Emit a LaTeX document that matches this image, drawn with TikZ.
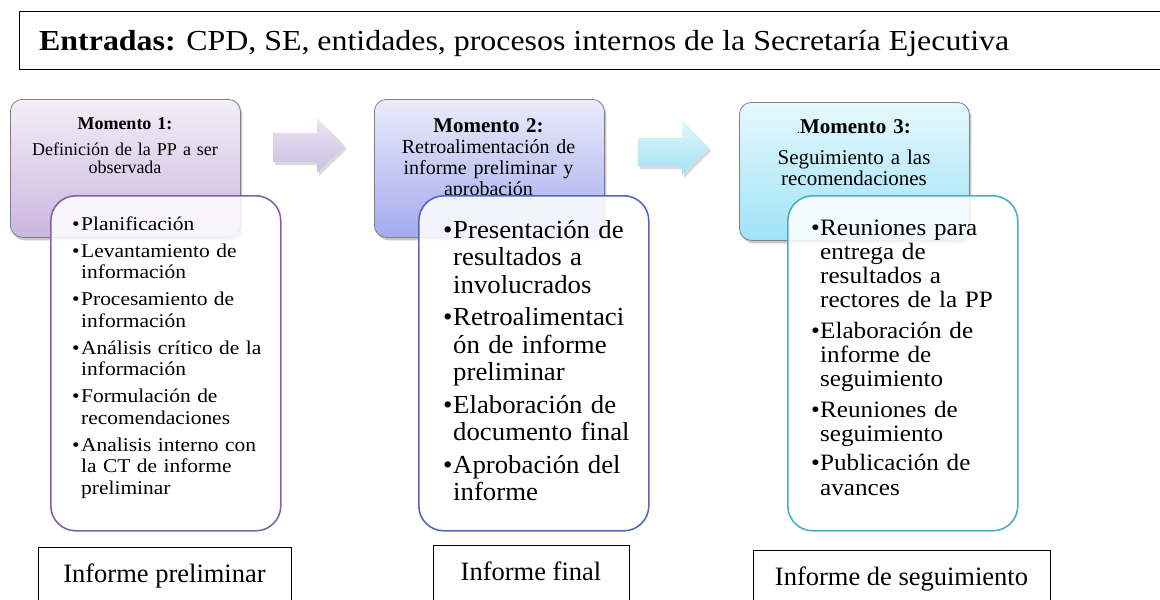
\documentclass[tikz,border=0pt]{standalone}
\usepackage{fontspec}
\setmainfont{Liberation Serif}
\newfontfamily\stretchA[FakeStretch=1.10]{Liberation Serif}
\newfontfamily\stretchB[FakeStretch=1.07]{Liberation Serif}
\newfontfamily\stretchC[FakeStretch=1.03]{Liberation Serif}
\usetikzlibrary{shadows}
\definecolor{mOneTop}{HTML}{F3EEF8}
\definecolor{mOneBot}{HTML}{CBB6DF}
\definecolor{mTwoTop}{HTML}{EBEBFA}
\definecolor{mTwoBot}{HTML}{A3AAEE}
\definecolor{mThreeTop}{HTML}{E6F8FD}
\definecolor{mThreeBot}{HTML}{9FE3F7}
\definecolor{aOneTop}{HTML}{ECE4F3}
\definecolor{aOneBot}{HTML}{CBBDE2}
\definecolor{aTwoTop}{HTML}{E2F6FC}
\definecolor{aTwoBot}{HTML}{A3E1F5}
\definecolor{inOne}{HTML}{8064A2}
\definecolor{inTwo}{HTML}{5069BD}
\definecolor{inThree}{HTML}{4BACC6}
\definecolor{momBorder}{HTML}{808080}
\newlength\bind
\newcommand\bitem[1]{\hangindent=\bind\hangafter=1\noindent\hbox to\bind{\textbullet\hfil}#1\par}
\tikzset{
  mombox/.style={draw=momBorder, line width=0.8pt, rounded corners=12pt,
    minimum width=230pt, minimum height=138pt, inner sep=0pt, anchor=north west,
    drop shadow={shadow xshift=2pt, shadow yshift=-3pt, fill=black, opacity=0.22}},
  inbox/.style={line width=1.6pt, rounded corners=25pt, fill=white, fill opacity=0.85,
    minimum width=230pt, minimum height=335pt, inner sep=0pt, anchor=north west},
  outbox/.style={draw=black, line width=1pt, inner sep=0pt, anchor=north west, minimum height=80pt},
  blockarrow/.style={drop shadow={shadow xshift=2pt, shadow yshift=-3pt, fill=black, opacity=0.15}},
  momtext/.style={anchor=base, inner sep=0pt, text width=225pt, align=center},
  listtext/.style={anchor=base west, inner sep=0pt},
  outtext/.style={anchor=base, inner sep=0pt, font=\fontsize{26.5}{30}\selectfont}
}
\begin{document}
\begin{tikzpicture}[x=1pt,y=-1pt]
\useasboundingbox (0,0) rectangle (1160,600);

% top input box
\node[draw=black, line width=1.1pt, inner sep=0pt, anchor=north west,
      minimum width=1160pt, minimum height=58pt] (entradas) at (19,11) {};
\node[anchor=base west, inner sep=0pt, font=\fontsize{29}{32}\stretchA] (entradastxt) at (39,50)
  {\textbf{Entradas:} CPD, SE, entidades, procesos internos de la Secretaría Ejecutiva};

% block arrows
\path[blockarrow, top color=aOneTop, bottom color=aOneBot]
  (273,133) -- (317,133) -- (317,118) -- (345,146) -- (317,173) -- (317,162) -- (273,162) -- cycle;
\path[blockarrow, top color=aTwoTop, bottom color=aTwoBot]
  (638,138) -- (682,138) -- (682,120) -- (709,148) -- (682,175) -- (682,166) -- (638,166) -- cycle;

% moment boxes
\node[mombox, top color=mOneTop, bottom color=mOneBot] (m1) at (10,99) {};
\node[mombox, top color=mTwoTop, bottom color=mTwoBot] (m2) at (374,99) {};
\node[mombox, top color=mThreeTop, bottom color=mThreeBot] (m3) at (739,102) {};

\node[momtext, font=\fontsize{18}{18}\selectfont] (m1t) at (125,129)
  {\textbf{Momento 1:}\\[8pt]Definición de la PP a ser\\observada};
\node[momtext, font=\fontsize{20}{21}\selectfont] (m2t) at (488.5,132)
  {{\fontsize{21}{21}\selectfont\textbf{Momento 2:}}\\Retroalimentación de\\informe preliminar y\\aprobación};
\node[momtext, font=\fontsize{21}{21}\selectfont] (m3t) at (854,133)
  {{\fontsize{12}{12}\selectfont.}\textbf{Momento 3:}\\[10pt]Seguimiento a las\\recomendaciones};

% detail boxes
\node[inbox, draw=inOne] (d1) at (50,195) {};
\node[inbox, draw=inTwo] (d2) at (418,195) {};
\node[inbox, draw=inThree] (d3) at (787,195) {};

\node[listtext, text width=205pt] (d1t) at (72,230) {%
  \fontsize{19.5}{21.5}\stretchA\spaceskip=0.33em plus 0.1em\setlength\bind{9pt}%
  \bitem{Planificación}\vspace{5.5pt}%
  \bitem{Levantamiento de\newline información}\vspace{5.5pt}%
  \bitem{Procesamiento de\newline información}\vspace{5.5pt}%
  \bitem{Análisis crítico de la\newline información}\vspace{5.5pt}%
  \bitem{Formulación de\newline recomendaciones}\vspace{5.5pt}%
  \bitem{Analisis interno con\newline la CT de informe\newline preliminar}};

\node[listtext, text width=205pt] (d2t) at (443,238) {%
  \fontsize{26}{27.5}\stretchC\spaceskip=0.32em plus 0.1em\setlength\bind{10pt}%
  \bitem{Presentación de\newline resultados a\newline involucrados}\vspace{5pt}%
  \bitem{Retroalimentaci\newline ón de informe\newline preliminar}\vspace{5pt}%
  \bitem{Elaboración de\newline documento final}\vspace{5pt}%
  \bitem{Aprobación del\newline informe}};

\node[listtext, text width=200pt] (d3t) at (811,235) {%
  \fontsize{23.5}{24.3}\stretchB\spaceskip=0.33em plus 0.1em\setlength\bind{9pt}%
  \bitem{Reuniones para\newline entrega de\newline resultados a\newline rectores de la PP}\vspace{6pt}%
  \bitem{Elaboración de\newline informe de\newline seguimiento}\vspace{6pt}%
  \bitem{Reuniones de\newline seguimiento}\vspace{5pt}%
  \bitem{Publicación de\newline avances}};

% output boxes
\node[outbox, minimum width=253pt] (o1) at (38,547) {};
\node[outbox, minimum width=196pt] (o2) at (433,545) {};
\node[outbox, minimum width=297pt] (o3) at (753,550) {};
\node[outtext] (o1t) at (164.5,582) {Informe preliminar};
\node[outtext] (o2t) at (531,580) {Informe final};
\node[outtext] (o3t) at (901.5,585) {Informe de seguimiento};
\end{tikzpicture}
\end{document}
